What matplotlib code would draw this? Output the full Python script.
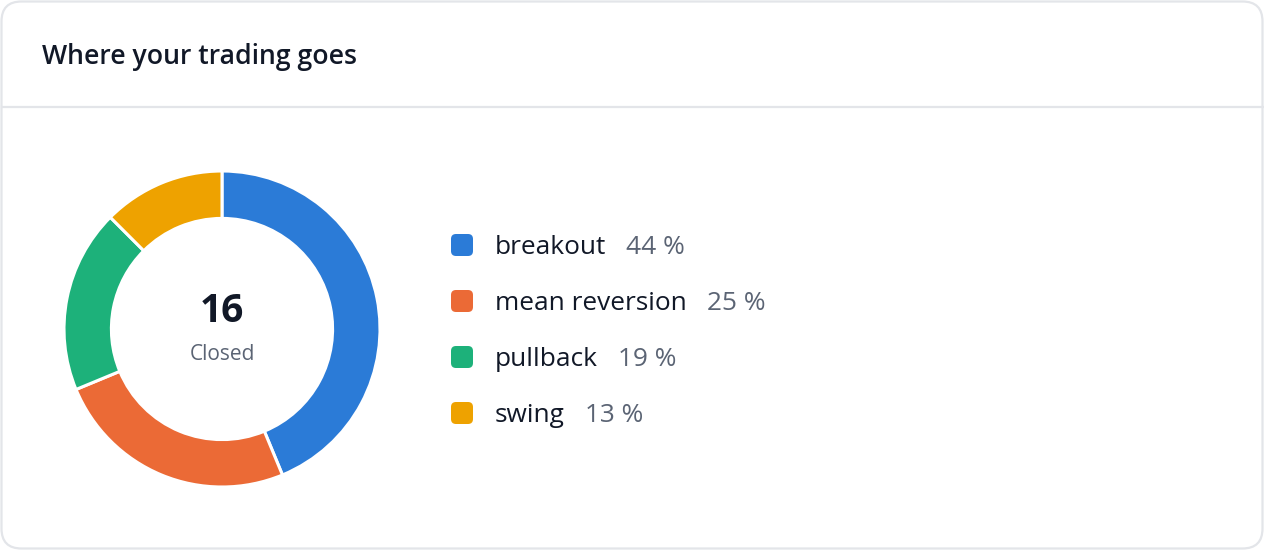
import matplotlib.pyplot as plt
from matplotlib.patches import FancyBboxPatch
from matplotlib.lines import Line2D

W, H = 1264, 550

categories = ["breakout", "mean reversion", "pullback", "swing"]
counts = [7, 4, 3, 2]
colors = ["#2B7BD7", "#EB6A36", "#1DB17A", "#EEA200"]
title = "Where your trading goes"
center_label = "Closed"

plt.rcParams["font.family"] = ["Open Sans", "DejaVu Sans"]

fig = plt.figure(figsize=(W / 100, H / 100), dpi=100)
fig.patch.set_facecolor("white")

# background axes in pixel coordinates (y down)
bg = fig.add_axes([0, 0, 1, 1])
bg.set_xlim(0, W)
bg.set_ylim(H, 0)
bg.axis("off")

card = FancyBboxPatch((1.5, 1.5), W - 3, H - 3,
                      boxstyle="round,pad=0,rounding_size=20",
                      facecolor="white", edgecolor="#E3E5E9", lw=1.6)
bg.add_patch(card)
bg.add_line(Line2D([1.5, W - 1.5], [107, 107], color="#E3E5E9", lw=1.6))
bg.text(42, 57, title, fontsize=19.2, fontweight="semibold", color="#111827",
        va="center", ha="left")

# donut
cx, cy, r = 222, 329, 158
pie_ax = fig.add_axes([(cx - r) / W, (H - cy - r) / H, 2 * r / W, 2 * r / H])
pie_ax.pie(counts, colors=colors, startangle=90, counterclock=False, radius=1,
           wedgeprops=dict(width=0.3, edgecolor="white", linewidth=2.2))
pie_ax.set_xlim(-1, 1)
pie_ax.set_ylim(-1, 1)
pie_ax.axis("off")

total = sum(counts)
bg.text(cx, 311, str(total), fontsize=28, fontweight="bold", color="#111827",
        ha="center", va="center")
bg.text(cx, 354, center_label, fontsize=15, color="#5B6474",
        ha="center", va="center")

# legend
renderer = fig.canvas.get_renderer()
y0, dy = 245, 56
for i, (name, n, c) in enumerate(zip(categories, counts, colors)):
    y = y0 + i * dy
    sq = FancyBboxPatch((451, y - 11), 22, 22,
                        boxstyle="round,pad=0,rounding_size=5",
                        facecolor=c, edgecolor="none")
    bg.add_patch(sq)
    t = bg.text(495, y + 2, name, fontsize=18.9, color="#111827",
                ha="left", va="center")
    bb = t.get_window_extent(renderer)
    pct = int(100 * n / total + 0.5)
    bg.text(bb.x1 + 20, y + 2, f"{pct} %", fontsize=18.9, color="#5B6474",
            ha="left", va="center")

fig.savefig("out.png", dpi=100)
